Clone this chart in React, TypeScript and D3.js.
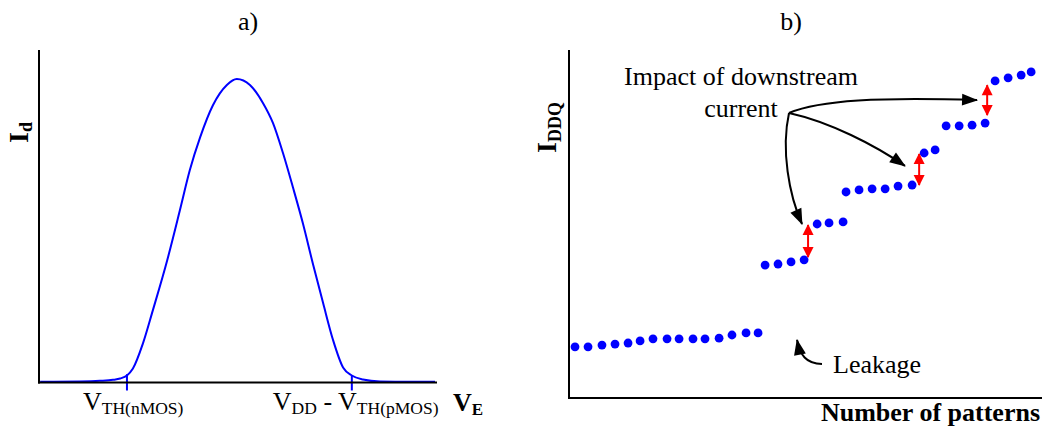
import * as d3 from 'd3';
import React, { useRef, useEffect } from 'react';

const FONT = "'Liberation Serif', 'Times New Roman', Times, serif";
const BLUE = '#0000ff';
const RED = '#ff0000';

// a) drain current vs. input voltage (arbitrary units)
const vIn = [0.03, 1.03, 1.53, 1.86, 2.04, 2.21, 2.36, 2.61, 2.86, 3.22, 3.54, 3.79, 4.05, 4.37, 4.72, 4.97,
    5.30, 5.63, 5.88, 6.13, 6.38, 6.63, 6.88, 7.14, 7.39, 7.64, 7.86, 8.14, 8.57, 9.32, 9.95];
const idCurrent = [0.02, 0.03, 0.05, 0.08, 0.12, 0.21, 0.42, 1.17, 2.17, 3.67, 5.18, 6.39, 7.38, 8.34, 8.95, 9.13,
    8.95, 8.40, 7.80, 6.90, 5.87, 4.79, 3.58, 2.38, 1.27, 0.45, 0.21, 0.09, 0.03, 0.02, 0.02];
const thresholdV = [2.21, 7.86];
const thresholdI = [0.25, 0.2];

// b) IDDQ vs. number of patterns (arbitrary units)
const patterns = [0.47, 1.49, 2.58, 3.60, 4.62, 5.56, 6.57, 7.67, 8.61, 9.70, 10.64, 11.74, 12.75, 13.85, 14.79,
    15.34, 16.35, 17.37, 18.39, 19.41, 20.34, 21.44,
    21.67, 22.69, 23.71, 24.73, 25.74, 26.84, 27.78, 28.64,
    29.50, 30.52, 31.53, 32.55, 33.33, 34.35, 35.37, 36.15];
const iddq = [14.7, 14.7, 15.2, 15.5, 15.8, 16.4, 17.0, 17.0, 17.0, 17.0, 17.0, 17.2, 18.1, 18.7, 18.7,
    38.2, 38.5, 39.1, 39.7, 50.0, 50.3, 50.6,
    59.2, 59.8, 60.1, 60.1, 60.9, 61.2, 70.4, 71.3,
    78.2, 78.2, 78.4, 79.0, 91.1, 92.0, 92.8, 93.7];
const jumpX = [18.70, 27.39, 32.71];
const jumpLow = [40.5, 61.2, 81.3];
const jumpHigh = [49.7, 70.1, 89.9];

// annotation arrows: [start, c1, c2, end] in data units
const downstreamArrows = [
    [[17.21, 81.9], [16.58, 71.3], [17.21, 58.3], [18.23, 50.0]],
    [[17.21, 81.9], [20.42, 79.3], [23.9, 72.7], [26.28, 66.7]],
    [[17.21, 81.9], [19.63, 85.6], [24.33, 86.5], [31.92, 85.6]],
];
const leakageArrow = [[19.79, 9.8], [18.54, 9.8], [18.07, 12.4], [17.84, 16.7]];

function App() {
    const ref = useRef<SVGSVGElement>(null);

    useEffect(() => {
        const svg = d3.select(ref.current);
        svg.selectAll('*').remove();
        draw(svg);
    }, []);

    const draw = (svg: any) => {
        svg.attr('width', 1049).attr('height', 427).attr('font-family', FONT);

        const defs = svg.append('defs');
        defs.append('marker')
            .attr('id', 'headBlack')
            .attr('markerUnits', 'userSpaceOnUse')
            .attr('markerWidth', 16).attr('markerHeight', 12)
            .attr('refX', 15).attr('refY', 6)
            .attr('orient', 'auto')
            .style('overflow', 'visible')
            .append('path').attr('d', 'M0,0 L16,6 L0,12 Z').attr('fill', '#000');
        defs.append('marker')
            .attr('id', 'headRed')
            .attr('markerUnits', 'userSpaceOnUse')
            .attr('markerWidth', 11).attr('markerHeight', 11)
            .attr('refX', 10).attr('refY', 5.5)
            .attr('orient', 'auto-start-reverse')
            .style('overflow', 'visible')
            .append('path').attr('d', 'M0,0 L11,5.5 L0,11 Z').attr('fill', RED);

        // ---------- a) ----------
        const xA = d3.scaleLinear().domain([0, 10]).range([39, 437]);
        const yA = d3.scaleLinear().domain([0, 10]).range([382.5, 50]);

        svg.append('text').attr('x', 248).attr('y', 30).attr('text-anchor', 'middle')
            .attr('font-size', 26).text('a)');

        const line = d3.line<number>()
            .x((d, i) => xA(vIn[i]))
            .y(d => yA(d))
            .curve(d3.curveMonotoneX);
        svg.append('path')
            .attr('d', line(idCurrent))
            .attr('fill', 'none')
            .attr('stroke', BLUE)
            .attr('stroke-width', 2);

        thresholdV.forEach((v, i) => {
            svg.append('line')
                .attr('x1', xA(v)).attr('x2', xA(v))
                .attr('y1', yA(thresholdI[i])).attr('y2', yA(0) + 8)
                .attr('stroke', BLUE).attr('stroke-width', 2);
        });

        svg.append('line').attr('x1', xA(0)).attr('x2', xA(0)).attr('y1', yA(10)).attr('y2', yA(0) + 1)
            .attr('stroke', '#000').attr('stroke-width', 2);
        svg.append('line').attr('x1', xA(0) - 1).attr('x2', xA(10)).attr('y1', yA(0)).attr('y2', yA(0))
            .attr('stroke', '#000').attr('stroke-width', 2);

        const t1 = svg.append('text').attr('x', xA(thresholdV[0]) - 44).attr('y', 410).style('white-space', 'pre');
        t1.append('tspan').attr('font-size', 26).text('V');
        t1.append('tspan').attr('font-size', 17.5).attr('dy', 4).text('TH(nMOS)');

        const t2 = svg.append('text').attr('x', xA(thresholdV[1]) - 79).attr('y', 410).style('white-space', 'pre');
        t2.append('tspan').attr('font-size', 26).text('V');
        t2.append('tspan').attr('font-size', 17.5).attr('dy', 4).text('DD');
        t2.append('tspan').attr('font-size', 26).attr('dy', -4).text(' - V');
        t2.append('tspan').attr('font-size', 17.5).attr('dy', 4).text('TH(pMOS)');

        const ve = svg.append('text').attr('x', 453).attr('y', 411).attr('font-weight', 'bold');
        ve.append('tspan').attr('font-size', 26).text('V');
        ve.append('tspan').attr('font-size', 17).attr('dy', 4).text('E');

        const id = svg.append('text').attr('transform', 'translate(28,143) rotate(-90)').attr('font-weight', 'bold');
        id.append('tspan').attr('font-size', 28).text('I');
        id.append('tspan').attr('font-size', 18).attr('dy', 4).text('d');

        // ---------- b) ----------
        const xB = d3.scaleLinear().domain([0, 37]).range([569, 1042]);
        const yB = d3.scaleLinear().domain([0, 100]).range([398, 50]);

        svg.append('text').attr('x', 791).attr('y', 30).attr('text-anchor', 'middle')
            .attr('font-size', 26).text('b)');

        svg.append('line').attr('x1', xB(0)).attr('x2', xB(0)).attr('y1', yB(100)).attr('y2', yB(0) + 1)
            .attr('stroke', '#000').attr('stroke-width', 2);
        svg.append('line').attr('x1', xB(0) - 1).attr('x2', xB(37)).attr('y1', yB(0)).attr('y2', yB(0))
            .attr('stroke', '#000').attr('stroke-width', 2);

        svg.selectAll('.dot')
            .data(patterns)
            .enter()
            .append('circle')
            .attr('class', 'dot')
            .attr('cx', (d: number) => xB(d))
            .attr('cy', (d: number, i: number) => yB(iddq[i]))
            .attr('r', 4.4)
            .attr('fill', BLUE);

        jumpX.forEach((x, i) => {
            svg.append('line')
                .attr('x1', xB(x)).attr('x2', xB(x))
                .attr('y1', yB(jumpLow[i])).attr('y2', yB(jumpHigh[i]))
                .attr('stroke', RED).attr('stroke-width', 2)
                .attr('marker-start', 'url(#headRed)')
                .attr('marker-end', 'url(#headRed)');
        });

        const bez = (pts: number[][]) => {
            const p = d3.path();
            const [s, c1, c2, e] = pts.map(q => [xB(q[0]), yB(q[1])]);
            p.moveTo(s[0], s[1]);
            p.bezierCurveTo(c1[0], c1[1], c2[0], c2[1], e[0], e[1]);
            return p.toString();
        };
        downstreamArrows.concat([leakageArrow]).forEach(a => {
            svg.append('path')
                .attr('d', bez(a))
                .attr('fill', 'none')
                .attr('stroke', '#000')
                .attr('stroke-width', 2)
                .attr('marker-end', 'url(#headBlack)');
        });

        svg.append('text').attr('x', 741).attr('y', 85).attr('text-anchor', 'middle')
            .attr('font-size', 26).text('Impact of downstream');
        svg.append('text').attr('x', 741).attr('y', 117).attr('text-anchor', 'middle')
            .attr('font-size', 26).text('current');
        svg.append('text').attr('x', 833).attr('y', 373)
            .attr('font-size', 26).text('Leakage');
        svg.append('text').attr('x', 1040).attr('y', 421).attr('text-anchor', 'end')
            .attr('font-size', 26).attr('font-weight', 'bold').text('Number of patterns');

        const iq = svg.append('text').attr('transform', 'translate(556,153) rotate(-90)').attr('font-weight', 'bold');
        iq.append('tspan').attr('font-size', 28).text('I');
        iq.append('tspan').attr('font-size', 18).attr('dy', 5).text('DDQ');
    };

    return (
        <div style={{ position: 'absolute', left: 0, top: 0, background: '#fff' }}>
            <svg ref={ref}></svg>
        </div>
    );
}

export default App;
